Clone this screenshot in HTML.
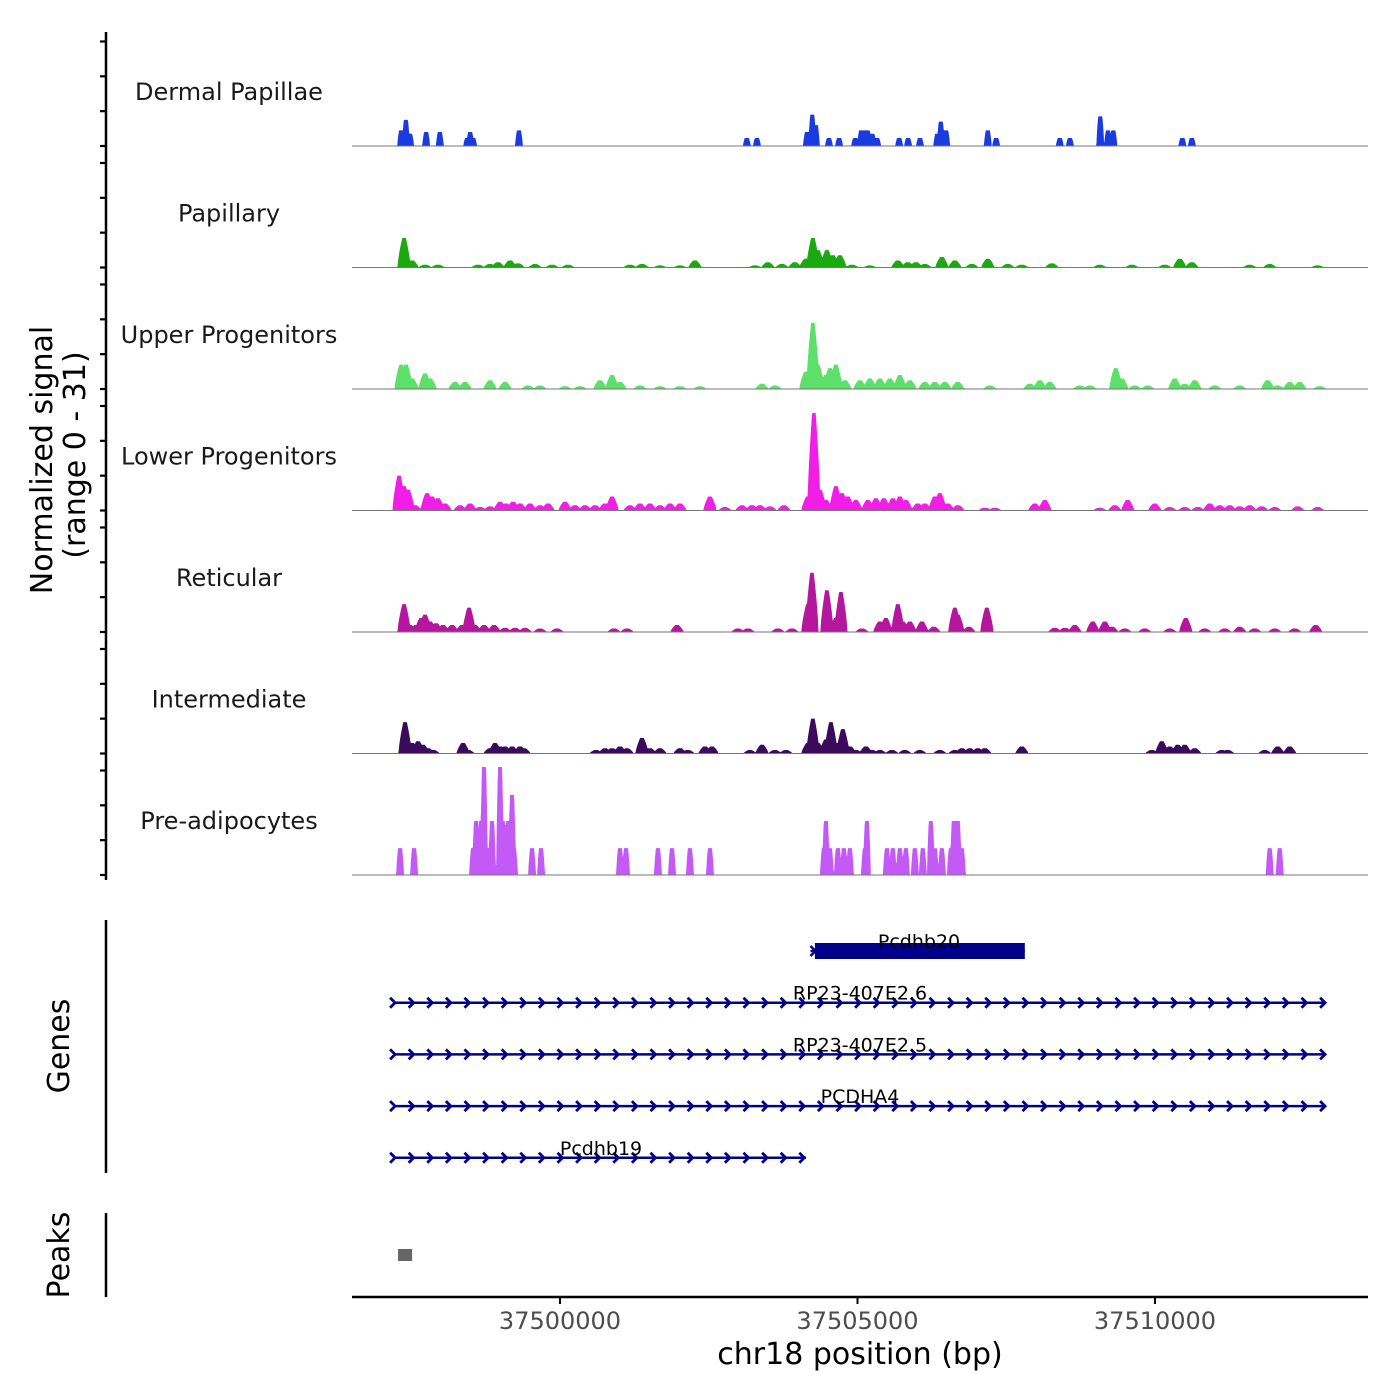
<!DOCTYPE html>
<html><head><meta charset="utf-8"><style>
body{margin:0;background:#fff;}
svg{display:block;font-family:"DejaVu Sans","Liberation Sans",sans-serif;}
</style></head><body>
<svg id="chart" width="1400" height="1400" viewBox="0 0 1400 1400" xmlns="http://www.w3.org/2000/svg">
<g id="axes"></g>
<g id="tracks"></g>
<g id="genes"></g>
<g id="peaks"></g>
</svg>
<script>
const trackNames = ["Dermal Papillae","Papillary","Upper Progenitors","Lower Progenitors","Reticular","Intermediate","Pre-adipocytes"];
const trackColors = ["#1a3be0","#1aa90f","#5ce06a","#f01ee6","#b4169e","#3b0a5c","#c35af5"];
const xTicks = [37500000,37505000,37510000];
const yTickVals = [0,10,20,30];
const dermalPos = [37497330,37497410,37497480,37497750,37497980,37498440,37498490,37498540,37499310,37503140,37503310,37504150,37504240,37504300,37504520,37504690,37504960,37505060,37505110,37505170,37505250,37505330,37505700,37505850,37506050,37506340,37506400,37506490,37507190,37507330,37508400,37508570,37509080,37509210,37509300,37510460,37510620];
const dermalVal = [4.5,7.5,3.5,4,4,2.3,4,2.3,4.5,2.3,2.3,4,9,6,2.3,2.3,2.3,4.5,4.5,4.5,3.5,2.3,2.3,2.3,2.3,3.5,7,4.5,4.5,2.3,2.3,2.3,8.5,4.5,4.5,2.3,2.3];
const papillaryPos = [37497379,37497514,37497732,37497950,37498622,37498824,37498958,37499160,37499294,37499580,37499866,37500134,37501176,37501378,37501680,37502016,37502268,37503276,37503494,37503730,37503948,37504133,37504250,37504334,37504486,37504586,37504704,37504906,37505208,37505678,37505846,37505981,37506132,37506418,37506636,37506922,37507190,37507526,37507762,37508266,37509072,37509610,37510164,37510416,37510618,37511592,37511928,37512734];
const papillaryVal = [8.5,2,0.8,0.8,0.8,1,1.5,2,1.2,1,0.8,0.8,0.8,1,0.6,0.6,2,0.6,1.5,1,1.5,2.5,8.5,5,5,3.5,3.5,0.8,0.6,2,1.5,1.5,1,3,2,1,2.5,1,0.8,1.2,0.8,0.8,0.8,2.5,1.5,0.8,1,0.6];
const upperPos = [37497329,37497413,37497514,37497732,37497816,37498236,37498404,37498824,37499076,37499462,37499664,37500084,37500336,37500672,37500874,37501008,37501344,37501680,37502016,37502352,37503394,37503612,37504133,37504250,37504334,37504469,37504536,37504637,37504788,37505040,37505208,37505376,37505544,37505712,37505880,37506132,37506300,37506468,37506686,37507224,37507896,37508064,37508232,37508736,37508904,37509341,37509442,37509660,37509878,37510332,37510500,37510668,37511004,37511424,37511894,37512062,37512264,37512432,37512768];
const upperVal = [7,7,3,4.5,3,2,2,2.5,2,1,1,0.8,0.8,2.5,4,2,1,0.8,0.8,0.8,1.5,1,5,19,7,4,6,7,2.5,2.5,3,3,3,4,2.5,2,2,2,2,1,1.5,2.5,2,1,1,6,3,1,1,3,1.5,2.5,1,1,2.5,1,2,2,0.8];
const lowerPos = [37497295,37497379,37497446,37497564,37497766,37497850,37497950,37498068,37498320,37498488,37498656,37498824,37498992,37499093,37499210,37499328,37499496,37499664,37499798,37500084,37500252,37500420,37500588,37500756,37500874,37501176,37501344,37501512,37501680,37501848,37502016,37502520,37502772,37503058,37503226,37503360,37503528,37503763,37504166,37504267,37504368,37504469,37504637,37504738,37504838,37504973,37505174,37505309,37505443,37505594,37505712,37505813,37506014,37506132,37506300,37506384,37506518,37506686,37507140,37507308,37507980,37508148,37509072,37509324,37509542,37509996,37510248,37510500,37510718,37510920,37511088,37511256,37511424,37511592,37511794,37512012,37512398,37512734];
const lowerVal = [10,7,6,1.5,5,4,3.5,2,1.5,2,1,1.2,2.5,2,2.5,2,2,1.5,2,2.5,1.5,1.5,1.5,2,4,1.5,2,2,1.5,2,2,4,1,1.5,1.5,1.5,1.2,1.5,4,28,6,3,7,5,4,3,3,3.5,3.5,3.5,4,3,2,2,4,5,2,1.5,0.8,0.8,2,3,0.8,1.5,3,2,1,1,1,2,1.5,1.5,1.2,1.5,1.2,1,1.2,1];
const reticularPos = [37497379,37497480,37497581,37497665,37497732,37497816,37497917,37498034,37498186,37498354,37498471,37498572,37498723,37498891,37499076,37499244,37499412,37499664,37499950,37500907,37501126,37501966,37502990,37503158,37503662,37503898,37504166,37504234,37504486,37504637,37504721,37505074,37505376,37505477,37505678,37505762,37505880,37506082,37506283,37506636,37506686,37506871,37507174,37508316,37508484,37508652,37508954,37509156,37509274,37509492,37509828,37510248,37510517,37510836,37511172,37511424,37511676,37512012,37512348,37512701];
const reticularVal = [8,2,2,4,5,3,2.5,2,2,2,7,2,2,2,1.2,1.2,1.2,1,1,1,1,2,1,1,1,1,8,17,12,4,11.5,1,3,4,8,3,3,3,1.5,7,5,1.5,7,1.2,1.2,2,3,3,1.5,1,1,1,4,1,1,1.5,1,1,1,2];
const intermediatePos = [37497396,37497514,37497614,37497698,37497782,37497866,37498370,37498454,37498824,37498908,37498992,37499076,37499194,37499328,37499395,37500605,37500756,37500874,37501008,37501126,37501378,37501512,37501680,37502016,37502150,37502436,37502554,37503192,37503394,37503612,37503797,37504166,37504250,37504334,37504469,37504553,37504637,37504754,37504872,37504973,37505141,37505242,37505376,37505578,37505796,37506048,37506384,37506636,37506754,37506888,37507022,37507140,37507762,37509946,37510114,37510248,37510382,37510500,37510668,37511122,37511222,37511844,37512062,37512264];
const intermediateVal = [9,3,3.5,2.5,1.5,1,3,1,1.5,3,2,2,2,2,1.5,1,1.5,1.5,2,1.5,4.5,1.5,1.5,1.5,1,2,2,1,2.5,1,1,3,10,3,4,9,3,7,2,1,2,1,1,1,1,1,1,1,1.5,1.5,1.5,1.5,2,1,3.5,2,2.5,2.5,1.5,1,1,1,2,2];
const preadipoPos = [37497312,37497547,37498538,37498589,37498673,37498723,37498774,37498858,37498992,37499042,37499126,37499194,37499227,37499530,37499681,37501008,37501109,37501646,37501882,37502184,37502520,37504435,37504469,37504536,37504670,37504771,37504872,37505124,37505158,37505494,37505594,37505712,37505813,37505964,37506098,37506233,37506300,37506418,37506569,37506619,37506686,37506754,37511928,37512096];
const preadipoVal = [7.7,7.7,7.7,15.5,15.5,31,7.7,15.5,31,15.5,15.5,23,7.7,7.7,7.7,7.7,7.7,7.7,7.7,7.7,7.7,7.7,15.5,7.7,7.7,7.7,7.7,7.7,15.5,7.7,7.7,7.7,7.7,7.7,7.7,15.5,7.7,7.7,7.7,15.5,15.5,7.7,7.7,7.7];
const geneNames = ["Pcdhb20","RP23-407E2.6","RP23-407E2.5","PCDHA4","Pcdhb19"];
const geneStarts = [37504210,37497228,37497228,37497228,37497228];
const geneEnds = [37507812,37512852,37512852,37512852,37504133];
const exonStart = [37504284]; const exonEnd = [37507812];
const peakStarts = [37497278]; const peakEnds = [37497514];

const trackPos=[dermalPos,papillaryPos,upperPos,lowerPos,reticularPos,intermediatePos,preadipoPos];
const trackVal=[dermalVal,papillaryVal,upperVal,lowerVal,reticularVal,intermediateVal,preadipoVal];
const NS="http://www.w3.org/2000/svg";
const X0=352,X1=1368,BP0=37496504,BP1=37513580;
function xs(bp){return X0+(bp-BP0)/(BP1-BP0)*(X1-X0);}
const yUnit=108/31;
function mk(tag,attrs,parent,text){const e=document.createElementNS(NS,tag);for(const k in attrs)e.setAttribute(k,attrs[k]);if(text!==undefined)e.textContent=text;parent.appendChild(e);return e;}
const axes=document.getElementById('axes'),tracksG=document.getElementById('tracks'),genesG=document.getElementById('genes'),peaksG=document.getElementById('peaks');
const baseY=i=>146+i*121.5;
trackNames.forEach((nm,i)=>{
  const b=baseY(i);
  const blocky=(i===0||i===6);
  const tw=blocky?35:30, bw=blocky?65:110;
  const step=8;
  let d=`M${X0} ${b}`;
  for(let bp=BP0;bp<=BP1;bp+=step){
    let v=0;const P=trackPos[i],V=trackVal[i];
    for(let k=0;k<P.length;k++){const dd=Math.abs(bp-P[k]);let c=0;if(dd<=tw)c=V[k];else if(dd<bw)c=V[k]*Math.pow((bw-dd)/(bw-tw),0.7);if(c>v)v=c;}
    d+=`L${xs(bp).toFixed(2)} ${(b-v*yUnit).toFixed(2)}`;
  }
  d+=`L${X1} ${b}Z`;
  const p=mk('path',{d:d,fill:trackColors[i],stroke:'none'},tracksG);
  
  
  const l=mk('line',{x1:X0,x2:X1,y1:b,y2:b,stroke:'#777','stroke-width':1},tracksG);
  
  
  const t=mk('text',{x:229,y:b-46,'font-size':24,'text-anchor':'middle',fill:'#1a1a1a'},tracksG,nm);
  
  
  yTickVals.forEach(v=>{const y=b-v*yUnit;const tk=mk('line',{x1:100,x2:106,y1:y,y2:y,stroke:'#000','stroke-width':2.2},axes);
    
    });
});
let a=mk('line',{x1:106,x2:106,y1:32,y2:880,stroke:'#000','stroke-width':2.5},axes);


a=mk('line',{x1:106,x2:106,y1:920,y2:1173,stroke:'#000','stroke-width':2.5},axes);


a=mk('line',{x1:106,x2:106,y1:1213,y2:1297,stroke:'#000','stroke-width':2.5},axes);


let tt=mk('text',{transform:'translate(52,460) rotate(-90)','font-size':30,'text-anchor':'middle',fill:'#000'},axes,'Normalized signal');


tt=mk('text',{transform:'translate(85,455) rotate(-90)','font-size':30,'text-anchor':'middle',fill:'#000'},axes,'(range 0 - 31)');


tt=mk('text',{transform:'translate(69,1046) rotate(-90)','font-size':30,'text-anchor':'middle',fill:'#000'},axes,'Genes');


tt=mk('text',{transform:'translate(69,1255) rotate(-90)','font-size':30,'text-anchor':'middle',fill:'#000'},axes,'Peaks');


a=mk('line',{x1:X0,x2:X1,y1:1297,y2:1297,stroke:'#000','stroke-width':2.5},axes);


xTicks.forEach(v=>{const x=xs(v);
 const t=mk('line',{x1:x,x2:x,y1:1297,y2:1304,stroke:'#000','stroke-width':2},axes);
 
 
 const l=mk('text',{x:x,y:1329,'font-size':24,'text-anchor':'middle',fill:'#4d4d4d'},axes,String(v));
 
 });
tt=mk('text',{x:860,y:1364,'font-size':30,'text-anchor':'middle',fill:'#000'},axes,'chr18 position (bp)');


const gc='#00008b';
geneNames.forEach((g,i)=>{
  const y=951+i*51.7;const xa=xs(geneStarts[i]),xb=xs(geneEnds[i]);
  const grp=mk('g',{},genesG);
  
  
  mk('line',{x1:xa,x2:xb,y1:y,y2:y,stroke:gc,'stroke-width':2.5},grp);
  if(i===0){mk('rect',{x:xs(exonStart[0]),y:y-8,width:xs(exonEnd[0])-xs(exonStart[0]),height:16,fill:gc},grp);
    mk('path',{d:`M${xa} ${y-5}L${xa+5} ${y}L${xa} ${y+5}`,fill:'none',stroke:gc,'stroke-width':2.5},grp);}
  else{for(let x=xa;x<=xb+0.5;x+=18.6){mk('path',{d:`M${x-5} ${y-5}L${x} ${y}L${x-5} ${y+5}`,fill:'none',stroke:gc,'stroke-width':2.8},grp);}}
  mk('text',{x:i===0?919:(i===4?601:860),y:y-3,'font-size':19,'text-anchor':'middle',fill:'#000'},grp,g);
});
peakStarts.forEach((s,i)=>{const r=mk('rect',{x:xs(s),y:1249,width:xs(peakEnds[i])-xs(s),height:12,fill:'#666'},peaksG);
 
 });
</script>
</body></html>
